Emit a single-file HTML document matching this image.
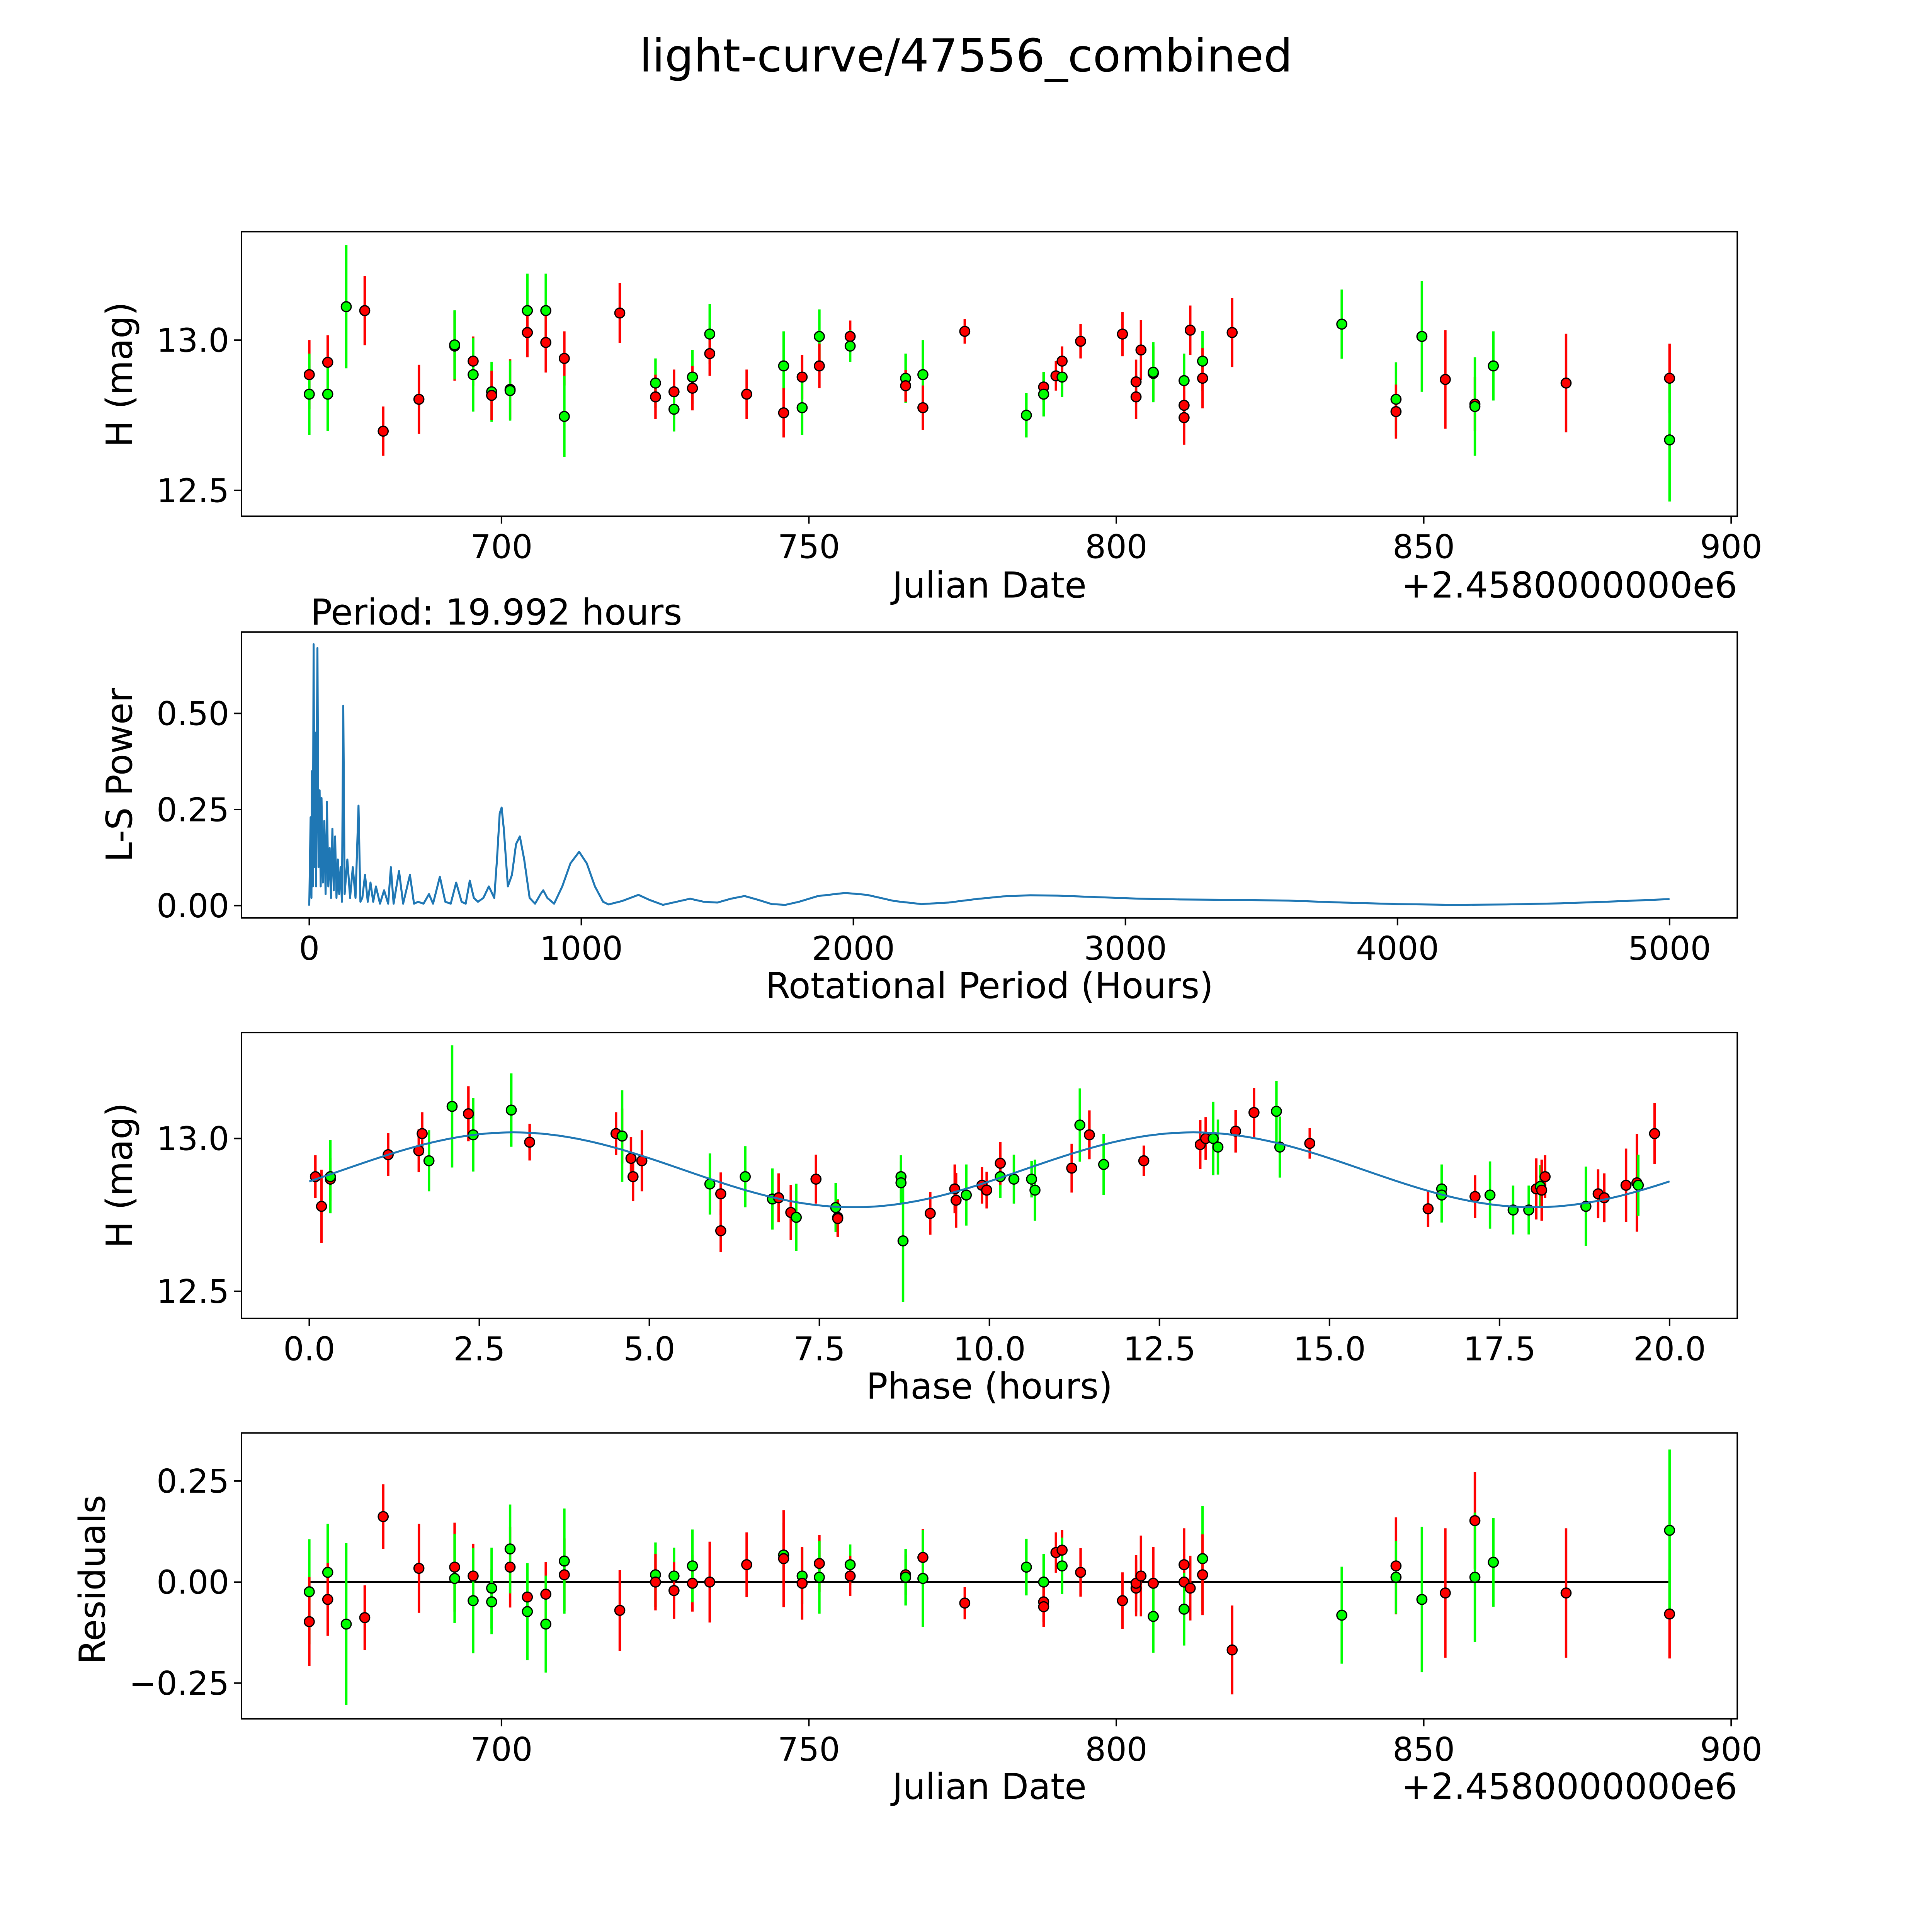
<!DOCTYPE html>
<html><head><meta charset="utf-8"><style>
html,body{margin:0;padding:0;background:#fff;overflow:hidden;width:100%;height:100%;}
svg{display:block;width:100vw;height:100vh;font-family:"DejaVu Sans","Liberation Sans",sans-serif;}
</style></head><body>
<svg id="fig" viewBox="0 0 1568 1568" preserveAspectRatio="none" xmlns="http://www.w3.org/2000/svg">
<rect width="1568" height="1568" fill="#fff"/>
<text x="784" y="58" font-size="37" text-anchor="middle">light-curve/47556_combined</text>
</svg>
<script>
// ---------- Panel 1: light curve ----------
const lcDates=[668.74,668.74,671.74,671.74,674.75,677.76,680.76,686.57,692.38,692.38,695.39,695.39,698.40,698.40,701.40,701.40,704.21,704.21,707.21,707.21,710.22,710.22,719.24,725.05,725.05,728.06,728.06,731.06,731.06,733.87,733.87,739.88,745.89,745.89,748.90,748.90,751.70,751.70,756.71,756.71,765.73,765.73,768.54,768.54,775.35,785.37,788.18,788.18,790.18,791.18,791.18,794.19,801.00,803.21,803.21,804.01,806.01,806.01,811.02,811.02,811.02,812.02,814.03,814.03,818.84,836.67,845.49,845.49,849.70,853.51,858.32,858.32,861.32,873.15,889.98,889.98];
const lcMags=[12.885,12.820,12.926,12.820,13.111,13.098,12.697,12.803,12.980,12.984,12.930,12.885,12.828,12.816,12.836,12.832,13.098,13.025,13.098,12.992,12.939,12.746,13.090,12.857,12.811,12.828,12.770,12.877,12.840,13.020,12.955,12.820,12.914,12.758,12.877,12.775,13.012,12.914,13.012,12.980,12.873,12.848,12.885,12.775,13.029,12.750,12.844,12.820,12.881,12.877,12.930,12.996,13.020,12.861,12.811,12.967,12.889,12.893,12.865,12.783,12.742,13.033,12.930,12.873,13.025,13.053,12.803,12.762,13.012,12.869,12.787,12.779,12.914,12.857,12.873,12.668];
const lcErrs=[0.115,0.135,0.09,0.123,0.205,0.115,0.082,0.115,0.115,0.115,0.082,0.123,0.10,0.082,0.10,0.10,0.123,0.082,0.123,0.10,0.09,0.135,0.10,0.082,0.074,0.074,0.074,0.09,0.074,0.10,0.074,0.082,0.115,0.082,0.074,0.09,0.09,0.074,0.053,0.053,0.082,0.053,0.115,0.074,0.041,0.074,0.049,0.074,0.049,0.066,0.049,0.057,0.074,0.074,0.074,0.10,0.09,0.10,0.09,0.074,0.09,0.082,0.10,0.10,0.115,0.115,0.123,0.09,0.184,0.164,0.09,0.164,0.115,0.164,0.115,0.205];
const lcColors=['r','g','r','g','g','r','r','r','r','g','r','g','g','r','r','g','g','r','g','r','r','g','r','g','r','r','g','g','r','g','r','r','g','r','r','g','g','r','r','g','g','r','g','r','r','g','r','g','r','g','r','r','r','r','r','r','r','g','g','r','r','r','g','r','r','g','g','r','g','r','r','g','g','r','r','g'];
const dateTicks=[700,750,800,850,900];
const magTicks=[13.0,12.5];

// ---------- Panel 2: periodogram ----------
const lsPeriods=[0,5,8,10,13,16,19,22,25,30,34,38,42,45,50,55,60,65,70,75,80,85,90,95,100,105,110,115,120,125,130,140,150,160,170,181,188,195,205,215,225,235,245,260,275,290,300,310,330,345,370,385,400,420,440,455,480,500,520,540,560,575,590,605,620,640,660,680,690,700,707,715,730,745,760,774,790,810,830,850,860,875,900,930,960,992,1020,1050,1080,1100,1150,1210,1250,1300,1350,1400,1450,1500,1550,1600,1650,1700,1750,1800,1870,1970,2050,2150,2250,2350,2450,2550,2650,2750,2900,3050,3200,3400,3600,3800,4000,4200,4400,4600,4800,5000];
const lsPower=[0,0.23,0.02,0.35,0.05,0.68,0.1,0.45,0.05,0.67,0.1,0.3,0.05,0.28,0.06,0.22,0.03,0.27,0.05,0.15,0.02,0.2,0.04,0.18,0.02,0.12,0.03,0.1,0.01,0.52,0.03,0.12,0.02,0.1,0.02,0.26,0.01,0.02,0.08,0.01,0.06,0.01,0.05,0.005,0.04,0.005,0.1,0.005,0.09,0.005,0.08,0.005,0.01,0.005,0.03,0.005,0.075,0.01,0.005,0.06,0.01,0.005,0.065,0.02,0.01,0.02,0.05,0.02,0.12,0.24,0.255,0.2,0.05,0.08,0.16,0.18,0.12,0.02,0.005,0.03,0.04,0.02,0.005,0.05,0.11,0.14,0.11,0.05,0.01,0.003,0.012,0.028,0.015,0.002,0.01,0.018,0.01,0.008,0.018,0.025,0.015,0.004,0.002,0.01,0.025,0.033,0.028,0.012,0.004,0.008,0.017,0.024,0.027,0.026,0.022,0.018,0.016,0.015,0.013,0.008,0.004,0.002,0.003,0.006,0.011,0.017];
const periodTicks=[0,1000,2000,3000,4000,5000];
const powerTicks=[0.00,0.25,0.50];
const powerTickLabels=['0.00','0.25','0.50'];

// ---------- Panel 3: phased ----------
const phPhase=[0.09,0.31,0.31,0.18,1.16,1.61,1.66,1.76,2.10,2.34,2.41,2.97,3.24,4.51,4.60,4.60,4.73,4.76,4.89,5.89,6.05,6.05,6.41,6.81,6.90,7.08,7.16,7.45,7.74,7.77,7.77,8.70,8.70,8.73,9.13,9.49,9.51,9.66,9.89,9.96,10.16,10.16,10.36,10.62,10.67,11.21,11.33,11.47,11.68,12.27,13.10,13.18,13.29,13.36,13.62,13.89,14.22,14.27,14.71,16.45,16.65,16.65,17.14,17.36,17.70,17.93,18.04,18.10,18.12,18.17,18.77,18.95,19.04,19.36,19.52,19.54,19.78];
const phMags=[12.875,12.867,12.875,12.778,12.947,12.960,13.016,12.927,13.105,13.081,13.012,13.093,12.988,13.016,13.008,13.008,12.935,12.875,12.927,12.851,12.819,12.698,12.875,12.802,12.806,12.758,12.742,12.867,12.774,12.742,12.738,12.875,12.855,12.665,12.755,12.835,12.798,12.815,12.847,12.831,12.875,12.919,12.867,12.867,12.831,12.903,13.044,13.012,12.915,12.927,12.980,13.000,13.000,12.972,13.024,13.085,13.089,12.972,12.984,12.770,12.835,12.815,12.810,12.815,12.766,12.766,12.835,12.843,12.831,12.875,12.778,12.819,12.806,12.847,12.855,12.847,13.016];
const phErrs=[0.07,0.07,0.12,0.12,0.07,0.07,0.07,0.1,0.2,0.09,0.12,0.12,0.06,0.07,0.09,0.15,0.07,0.08,0.1,0.1,0.07,0.07,0.1,0.1,0.08,0.09,0.11,0.08,0.08,0.06,0.06,0.07,0.07,0.2,0.07,0.08,0.09,0.1,0.06,0.06,0.07,0.07,0.08,0.06,0.1,0.08,0.12,0.08,0.1,0.05,0.08,0.07,0.12,0.09,0.07,0.08,0.1,0.1,0.05,0.06,0.08,0.09,0.07,0.11,0.08,0.08,0.1,0.07,0.1,0.07,0.13,0.08,0.08,0.12,0.16,0.1,0.1];
const phColors=['r','r','g','r','r','r','r','g','g','r','g','g','r','r','r','g','r','r','r','g','r','r','g','g','r','r','g','r','g','g','r','g','g','g','r','r','r','g','r','r','g','r','g','g','g','r','g','r','g','r','r','r','g','g','r','r','g','g','r','r','g','g','r','g','g','g','r','g','r','r','g','r','r','r','r','g','r'];
const phaseTicks=[0,2.5,5,7.5,10,12.5,15,17.5,20];
const fitMean=12.8975, fitAmp=0.1225, fitPeriod=10, fitPhase0=0.5;

// ---------- Panel 4: residuals ----------
const rsDates=[668.74,668.74,671.74,671.74,674.75,677.76,680.76,686.57,692.38,692.38,695.39,695.39,698.40,698.40,701.40,701.40,704.21,704.21,707.21,707.21,710.22,710.22,719.24,725.05,725.05,728.06,728.06,731.06,731.06,733.87,739.88,745.89,745.89,748.90,748.90,751.70,751.70,756.71,756.71,765.73,765.73,768.54,768.54,775.35,785.37,788.18,788.18,788.18,790.18,791.18,791.18,794.19,801.00,803.21,803.21,804.01,806.01,806.01,811.02,811.02,811.02,812.02,814.03,814.03,818.84,836.67,845.49,845.49,849.70,853.51,858.32,858.32,861.32,873.15,889.98,889.98];
const rsVals=[-0.024,-0.098,0.024,-0.043,-0.104,-0.088,0.162,0.034,0.037,0.009,0.015,-0.046,-0.015,-0.049,0.037,0.082,-0.037,-0.073,-0.030,-0.104,0.018,0.052,-0.070,0.018,0.000,0.015,-0.021,-0.003,0.040,0.000,0.043,0.067,0.058,0.015,-0.003,0.046,0.012,0.043,0.015,0.018,0.012,0.061,0.009,-0.052,0.037,0.000,-0.049,-0.061,0.073,0.079,0.040,0.024,-0.046,-0.015,-0.003,0.015,-0.003,-0.085,0.043,0.000,-0.067,-0.015,0.058,0.018,-0.168,-0.082,0.040,0.012,-0.043,-0.027,0.152,0.012,0.049,-0.027,-0.079,0.128];
const rsErrs=[0.13,0.11,0.12,0.09,0.2,0.08,0.08,0.11,0.11,0.11,0.08,0.13,0.1,0.08,0.1,0.11,0.08,0.12,0.08,0.12,0.09,0.13,0.1,0.08,0.07,0.07,0.07,0.07,0.09,0.1,0.08,0.08,0.12,0.07,0.09,0.07,0.09,0.05,0.05,0.05,0.07,0.07,0.12,0.04,0.07,0.07,0.05,0.05,0.05,0.05,0.07,0.06,0.07,0.07,0.07,0.1,0.09,0.09,0.09,0.07,0.09,0.08,0.13,0.1,0.11,0.12,0.12,0.09,0.18,0.16,0.12,0.16,0.11,0.16,0.11,0.2];
const rsColors=['g','r','g','r','g','r','r','r','r','g','r','g','g','g','r','g','r','g','r','g','r','g','r','g','r','g','r','r','g','r','r','g','r','g','r','r','g','g','r','r','g','r','g','r','g','g','r','r','r','r','g','r','r','r','r','r','r','g','r','r','g','r','g','r','r','g','r','g','g','r','r','g','g','r','r','g'];
const residTicks=[0.25,0,-0.25];
const residTickLabels=['0.25','0.00','\u22120.25'];

// ---------- drawing ----------
const NS='http://www.w3.org/2000/svg';
const svg=document.getElementById('fig');
function mk(tag,attrs,parent){const e=document.createElementNS(NS,tag);for(const k in attrs)e.setAttribute(k,attrs[k]);(parent||svg).appendChild(e);return e;}
const COL={r:'#ff0000',g:'#00ff00'};
const L=196,R=1410;
const TF=26.5, AF=29;
const xDate=d=>407+(d-700)*4.99;
const xPer=p=>251+p*0.2208;
const xPh=h=>251+h*55.2;

function panel(name){
  const g=mk('g',{});
  
  
  return g;
}
function frame(g,top,bot){
  const r=mk('rect',{x:L,y:top,width:R-L,height:bot-top,fill:'none',stroke:'#000','stroke-width':1.2},g);
  
  
}
function xticks(g,ticks,labels,fx,bot){
  ticks.forEach((t,i)=>{
    const x=fx(t);
    mk('line',{x1:x,x2:x,y1:bot,y2:bot+6,stroke:'#000','stroke-width':1.2},g);
    const tx=mk('text',{x:x,y:bot+34,'font-size':TF,'text-anchor':'middle'},g);
    tx.textContent=labels[i];
    
    
  });
}
function yticks(g,ticks,labels,fy){
  ticks.forEach((t,i)=>{
    const y=fy(t);
    mk('line',{x1:L-6,x2:L,y1:y,y2:y,stroke:'#000','stroke-width':1.2},g);
    const tx=mk('text',{x:L-10,y:y+9.5,'font-size':TF,'text-anchor':'end'},g);
    tx.textContent=labels[i];
    
    
  });
}
function label(g,txt,x,y,rot,name,anchor){
  const t=mk('text',{x:x,y:y,'font-size':AF,'text-anchor':anchor||'middle'},g);
  if(rot)t.setAttribute('transform','rotate(-90 '+x+' '+y+')');
  t.textContent=txt;
  
  
}
function points(g,xs,ys,es,cs,fx,fy){
  xs.forEach((xv,i)=>{
    const x=fx(xv),y1=fy(ys[i]-es[i]),y2=fy(ys[i]+es[i]);
    const ln=mk('line',{x1:x,x2:x,y1:y1,y2:y2,stroke:COL[cs[i]],'stroke-width':2},g);
    
    
  });
  xs.forEach((xv,i)=>{
    const c=mk('circle',{cx:fx(xv),cy:fy(ys[i]),r:4,fill:COL[cs[i]],stroke:'#000','stroke-width':1},g);
    
    
  });
}

// Panel 1
(function(){
  const top=188,bot=419,g=panel('light-curve-panel');
  const fy=m=>276-(m-13)*244;
  frame(g,top,bot);
  points(g,lcDates,lcMags,lcErrs,lcColors,xDate,fy);
  xticks(g,dateTicks,dateTicks.map(String),xDate,bot);
  yticks(g,magTicks,magTicks.map(v=>v.toFixed(1)),fy);
  label(g,'Julian Date',803,485,false,'x-axis-title');
  label(g,'+2.4580000000e6',1410,485,false,'x-axis-offset','end');
  label(g,'H (mag)',107,304,true,'y-axis-title');
})();

// Panel 2
(function(){
  const top=513,bot=745,g=panel('periodogram-panel');
  const fy=p=>735-p*312;
  frame(g,top,bot);
  const d=lsPeriods.map((p,i)=>(i?'L':'M')+xPer(p).toFixed(2)+','+fy(lsPower[i]).toFixed(2)).join('');
  const path=mk('path',{d:d,fill:'none',stroke:'#1f77b4','stroke-width':1.6,'stroke-linejoin':'round'},g);
  
  
  xticks(g,periodTicks,periodTicks.map(String),xPer,bot);
  yticks(g,powerTicks,powerTickLabels,fy);
  label(g,'Rotational Period (Hours)',803,810,false,'x-axis-title');
  label(g,'L-S Power',107,629,true,'y-axis-title');
  label(g,'Period: 19.992 hours',252,507,false,'period-annotation','start');
})();

// Panel 3
(function(){
  const top=838,bot=1070,g=panel('phased-panel');
  const fy=m=>924-(m-13)*248;
  frame(g,top,bot);
  points(g,phPhase,phMags,phErrs,phColors,xPh,fy);
  let d='';
  for(let i=0;i<=400;i++){const h=20*i/400;const m=fitMean+fitAmp*Math.sin(2*Math.PI*(h-fitPhase0)/fitPeriod);d+=(i?'L':'M')+xPh(h).toFixed(2)+','+fy(m).toFixed(2);}
  const path=mk('path',{d:d,fill:'none',stroke:'#1f77b4','stroke-width':1.6},g);
  
  
  xticks(g,phaseTicks,phaseTicks.map(v=>v.toFixed(1)),xPh,bot);
  yticks(g,magTicks,magTicks.map(v=>v.toFixed(1)),fy);
  label(g,'Phase (hours)',803,1135,false,'x-axis-title');
  label(g,'H (mag)',107,954,true,'y-axis-title');
})();

// Panel 4
(function(){
  const top=1163,bot=1395,g=panel('residuals-panel');
  const fy=r=>1284-r*328;
  frame(g,top,bot);
  const zl=mk('line',{x1:xDate(rsDates[0]),x2:xDate(rsDates[rsDates.length-1]),y1:fy(0),y2:fy(0),stroke:'#000','stroke-width':1.5},g);
  
  
  points(g,rsDates,rsVals,rsErrs,rsColors,xDate,fy);
  xticks(g,dateTicks,dateTicks.map(String),xDate,bot);
  yticks(g,residTicks,residTickLabels,fy);
  label(g,'Julian Date',803,1460,false,'x-axis-title');
  label(g,'+2.4580000000e6',1410,1460,false,'x-axis-offset','end');
  label(g,'Residuals',85,1282,true,'y-axis-title');
})();
</script>
</body></html>
